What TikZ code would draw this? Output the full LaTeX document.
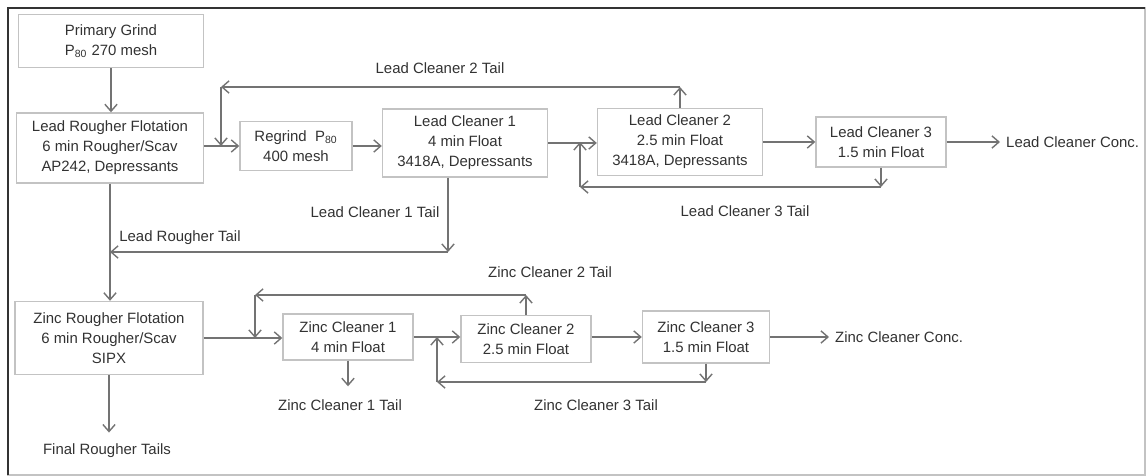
\documentclass[tikz,border=0pt]{standalone}
\usepackage{fontspec}
\setmainfont{Liberation Sans}
\usetikzlibrary{arrows.meta,calc}
\definecolor{boxgray}{RGB}{195,195,195}
\definecolor{linegray}{RGB}{115,115,115}
\definecolor{txtgray}{RGB}{50,50,50}

\begin{document}
\begin{tikzpicture}[x=0.02cm, y=-0.02cm,
    font=\fontsize{8.5}{11.4}\selectfont, text=txtgray,
    >={Straight Barb[length=4pt,width=7pt]},
    unit/.style={draw=boxgray, line width=0.8pt, align=center},
    flow/.style={->, draw=linegray, line width=0.8pt}]
    \useasboundingbox (0,0) rectangle (1146,476);
    % frame
    \draw[boxgray, line width=0.8pt] (8,8) rectangle (1145,475);
    \draw[txtgray, line width=1.6pt] (8,475) -- (8,8) -- (1145,8);

    % lead circuit
    \node[unit, minimum width=3.7cm, minimum height=1.06cm] (pg) at (111,41) {Primary Grind\\P\textsubscript{80} 270 mesh};
    \node[unit, minimum width=3.74cm, minimum height=1.4cm] (lr) at (110,148) {Lead Rougher Flotation\\6 min Rougher/Scav\\AP242, Depressants};
    \node[unit, minimum width=2.24cm, minimum height=0.98cm] (rg) at (296,146) {Regrind\ \ P\textsubscript{80}\\400 mesh};
    \node[unit, minimum width=3.3cm, minimum height=1.36cm] (lc1) at (465,143) {Lead Cleaner 1\\4 min Float\\3418A, Depressants};
    \node[unit, minimum width=3.3cm, minimum height=1.34cm] (lc2) at (680,142) {Lead Cleaner 2\\2.5 min Float\\3418A, Depressants};
    \node[unit, minimum width=2.6cm, minimum height=1.0cm] (lc3) at (881,142) {Lead Cleaner 3\\1.5 min Float};
    \node[anchor=west] (lcc) at (1000,142) {Lead Cleaner Conc.};

    \node (lc2t) at (440,68) {Lead Cleaner 2 Tail};
    \node (lc1t) at (375,212) {Lead Cleaner 1 Tail};
    \node (lc3t) at (745,211) {Lead Cleaner 3 Tail};
    \node (lrt) at (180,238) {Lead Rougher Tail};

    % zinc circuit
    \node[unit, minimum width=3.76cm, minimum height=1.46cm] (zr) at (109,338) {Zinc Rougher Flotation\\6 min Rougher/Scav\\SIPX};
    \node[unit, minimum width=2.6cm, minimum height=0.92cm] (zc1) at (348,337) {Zinc Cleaner 1\\4 min Float};
    \node[unit, minimum width=2.6cm, minimum height=0.94cm] (zc2) at (526,339) {Zinc Cleaner 2\\2.5 min Float};
    \node[unit, minimum width=2.54cm, minimum height=1.04cm] (zc3) at (706,337) {Zinc Cleaner 3\\1.5 min Float};
    \node[anchor=west] (zcc) at (829,337) {Zinc Cleaner Conc.};

    \node (zc2t) at (550,272) {Zinc Cleaner 2 Tail};
    \node (zc1t) at (340,405) {Zinc Cleaner 1 Tail};
    \node (zc3t) at (596,405) {Zinc Cleaner 3 Tail};
    \node (frt) at (107,451) {Final Rougher Tails};

    % tail corners
    \coordinate (t2) at (221,87);
    \coordinate (t3) at (580,187);
    \coordinate (t1) at (448,252);
    \coordinate (s2) at (255,295);
    \coordinate (s3) at (437,382);

    % lead flows
    \draw[flow] (pg.south) -- (pg.south |- lr.north);
    \draw[flow] (lr.east |- rg.west) -- (rg.west);
    \draw[flow] (rg.east) -- (rg.east -| lc1.west);
    \draw[flow] (lc1.east) -- (lc1.east -| lc2.west);
    \draw[flow] (lc2.east) -- (lc2.east -| lc3.west);
    \draw[flow] (lc3.east) -- (lcc.west);
    \draw[flow] (lc2.north) -- (lc2.north |- t2);
    \draw[flow] (lc2.north |- t2) -- (t2);
    \draw[flow] (t2) -- (t2 |- rg.west);
    \draw[flow] (lc3.south) -- (lc3.south |- t3);
    \draw[flow] (lc3.south |- t3) -- (t3);
    \draw[flow] (t3) -- (t3 |- lc2.west);
    \draw[flow] (t1 |- lc1.south) -- (t1);
    \draw[flow] (t1) -- (t1 -| lr.south);
    \draw[flow] (lr.south) -- (lr.south |- zr.north);

    % zinc flows
    \draw[flow] (zr.east) -- (zr.east -| zc1.west);
    \draw[flow] (zc1.east) -- (zc1.east -| zc2.west);
    \draw[flow] (zc2.east |- zc3.west) -- (zc3.west);
    \draw[flow] (zc3.east) -- (zcc.west);
    \draw[flow] (zc2.north) -- (zc2.north |- s2);
    \draw[flow] (zc2.north |- s2) -- (s2);
    \draw[flow] (s2) -- (s2 |- zr.east);
    \draw[flow] (zc3.south) -- (zc3.south |- s3);
    \draw[flow] (zc3.south |- s3) -- (s3);
    \draw[flow] (s3) -- (s3 |- zc1.east);
    \draw[flow, shorten >=4pt] (zc1.south) -- (zc1.south |- zc1t.north);
    \draw[flow, shorten >=3pt] (zr.south) -- (zr.south |- frt.north);
\end{tikzpicture}
\end{document}
